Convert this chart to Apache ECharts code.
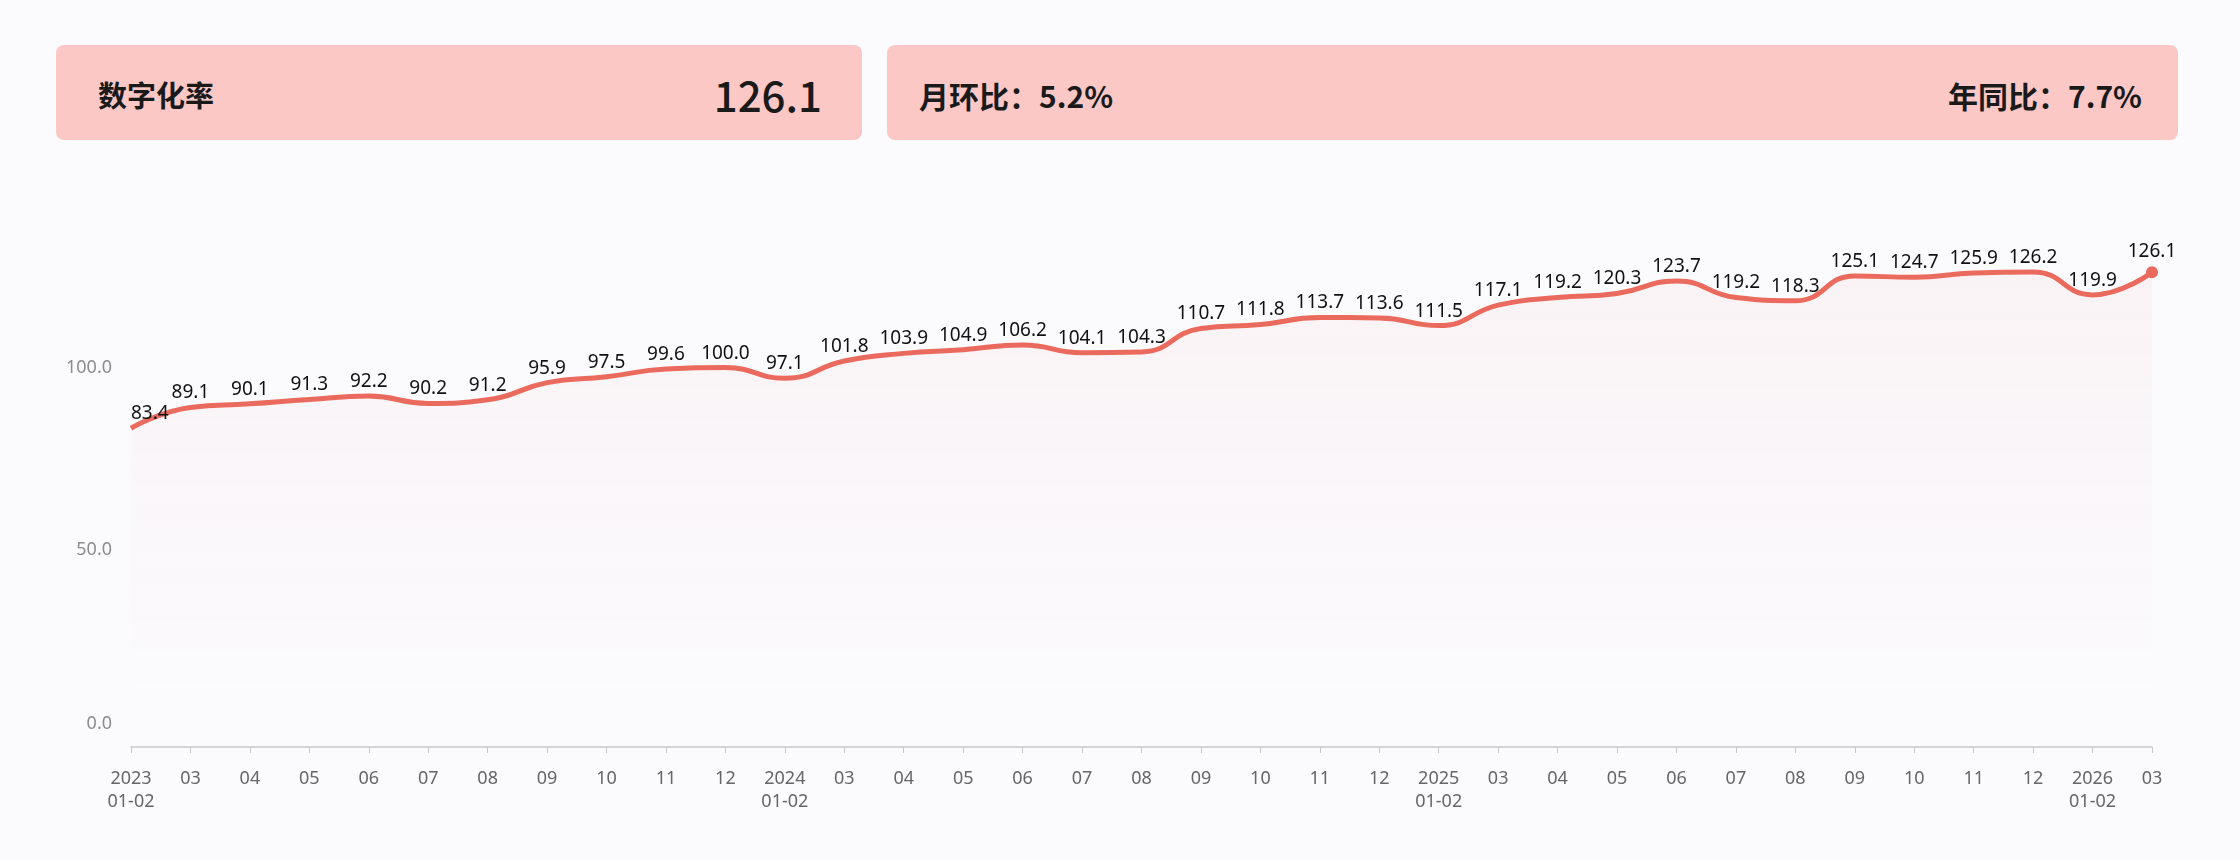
<!DOCTYPE html>
<html>
<head>
<meta charset="utf-8">
<script src="https://cdn.jsdelivr.net/npm/echarts@6/dist/echarts.min.js"></script>
<style>
  html, body { margin: 0; padding: 0; background: #fbfbfe; }
  #page { position: relative; width: 2240px; height: 860px; }
  #chart { position: absolute; left: 0; top: 0; width: 2240px; height: 860px; }
  .card {
    position: absolute; top: 45px; height: 95px; background: #fcc8c6; border-radius: 8px;
    display: flex; align-items: center; justify-content: space-between;
    font-family: "Noto Sans CJK SC", "Noto Sans", sans-serif; color: #1a1a1a; box-sizing: border-box;
  }
  .card1 { left: 56px; width: 806px; padding: 2px 40px 0 42px; }
  .card2 { left: 887px; width: 1291px; padding: 4px 36px 0 32px; }
  .title { font-size: 29px; font-weight: 700; }
  .big { font-size: 42px; font-weight: 500; }
  .ratio { font-size: 30px; font-weight: 700; }
</style>
</head>
<body>
<div id="page">
  <div id="chart"></div>
  <div class="card card1"><span class="title">数字化率</span><span class="big" id="latest"></span></div>
  <div class="card card2"><span class="ratio" id="mom"></span><span class="ratio" id="yoy"></span></div>
</div>
<script>
// 月份标签（1-2月合并）
const months = [
  '2023\n01-02', '03', '04', '05', '06', '07', '08', '09', '10', '11', '12',
  '2024\n01-02', '03', '04', '05', '06', '07', '08', '09', '10', '11', '12',
  '2025\n01-02', '03', '04', '05', '06', '07', '08', '09', '10', '11', '12',
  '2026\n01-02', '03'
]

const rates = [
  83.4, 89.1, 90.1, 91.3, 92.2, 90.2, 91.2, 95.9, 97.5, 99.6, 100.0,
  97.1, 101.8, 103.9, 104.9, 106.2, 104.1, 104.3, 110.7, 111.8, 113.7, 113.6,
  111.5, 117.1, 119.2, 120.3, 123.7, 119.2, 118.3, 125.1, 124.7, 125.9, 126.2,
  119.9, 126.1
]

const summary = { latest: '126.1', mom: '5.2%', yoy: '7.7%' }

document.getElementById('latest').textContent = summary.latest
document.getElementById('mom').textContent = '月环比：' + summary.mom
document.getElementById('yoy').textContent = '年同比：' + summary.yoy

const chart = echarts.init(document.getElementById('chart'))
const last = rates.length - 1
const lineColor = '#ea6b5d'

const option = {
  backgroundColor: 'transparent',
  textStyle: { fontFamily: 'Noto Sans, Noto Sans CJK SC, sans-serif' },
  grid: { left: 131, right: 88, top: 258, bottom: 127 },
  xAxis: {
    type: 'category',
    boundaryGap: false,
    data: months,
    offset: 14,
    axisLine: { onZero: false, lineStyle: { color: '#c8c8c8', width: 1.5 } },
    axisTick: { show: true, length: 6, lineStyle: { color: '#c8c8c8' } },
    axisLabel: { interval: 0, fontSize: 18, color: '#666', margin: 20, lineHeight: 23 }
  },
  yAxis: {
    type: 'value',
    min: 0,
    max: 130,
    interval: 50,
    axisLine: { show: false },
    axisTick: { show: false },
    splitLine: { show: false },
    axisLabel: {
      fontSize: 18,
      color: '#8c8c8c',
      margin: 19,
      showMaxLabel: false,
      verticalAlignMinLabel: 'bottom',
      formatter: (v) => v.toFixed(1)
    }
  },
  series: [
    {
      type: 'line',
      smooth: true,
      data: rates.map((v, i) => i === 0 ? { value: v, label: { align: 'left' } } : v),
      symbol: 'circle',
      symbolSize: (v, params) => params.dataIndex === last ? 12 : 0,
      itemStyle: { color: lineColor },
      lineStyle: { color: lineColor, width: 5 },
      label: {
        show: true,
        position: 'top',
        fontSize: 19,
        color: '#111',
        formatter: (p) => Number(p.value).toFixed(1)
      },
      areaStyle: {
        color: new echarts.graphic.LinearGradient(0, 0, 0, 1, [
          { offset: 0, color: 'rgba(234, 107, 93, 0.08)' },
          { offset: 1, color: 'rgba(234, 107, 93, 0)' }
        ])
      }
    }
  ]
}

chart.setOption(option)
</script>
</body>
</html>
